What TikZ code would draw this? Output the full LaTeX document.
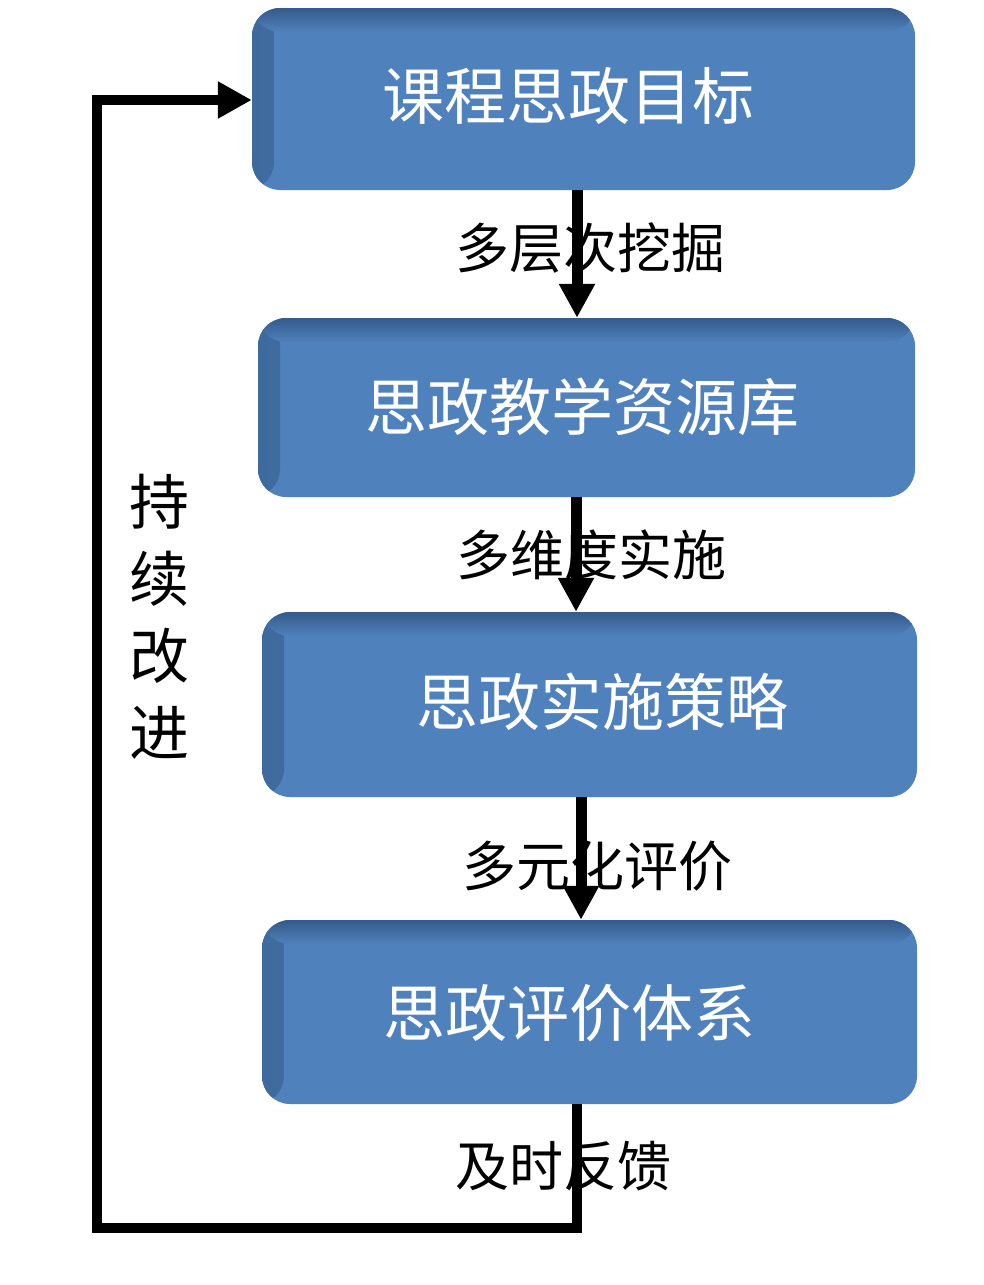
\documentclass[tikz,border=0pt]{standalone}
\usepackage{fontspec}
\newfontfamily\cjk{Noto Sans CJK SC}
\usetikzlibrary{arrows.meta}
\definecolor{boxblue}{HTML}{4F81BD}
\definecolor{boxdark}{HTML}{2A4A76}
\definecolor{boxside}{HTML}{3E6A9E}
\begin{document}
\begin{tikzpicture}[x=1pt,y=-1pt,
  box/.style={draw=none, fill=boxblue, rounded corners=28pt, inner sep=0pt,
    path picture={
      \shade[left color=boxside, right color=boxblue] ([xshift=-10pt]path picture bounding box.north west) rectangle ([xshift=22pt]path picture bounding box.south west);
      \shade[top color=boxdark, bottom color=boxblue] ([yshift=10pt]path picture bounding box.north west) rectangle ([yshift=-24pt]path picture bounding box.north east);
    }},
  boxtext/.style={inner sep=0pt, text=white, font=\cjk\fontsize{62}{62}\selectfont},
  lbl/.style={inner sep=0pt, text=black, font=\cjk\fontsize{54}{54}\selectfont},
  arr/.style={line width=11pt, -{Triangle[width=34pt,length=34pt]}},
  loopline/.style={line width=10pt, line join=miter, -{Triangle[width=35pt,length=34pt]}}
]
\useasboundingbox (0,0) rectangle (984,1285);

% boxes
\node[box, minimum width=663pt, minimum height=182pt] (b1) at (583.5,99) {};
\node[box, minimum width=657pt, minimum height=179pt] (b2) at (586.5,407.5) {};
\node[box, minimum width=655pt, minimum height=185pt] (b3) at (589.5,704.5) {};
\node[box, minimum width=655pt, minimum height=184pt] (b4) at (589.5,1012) {};

% box texts
\node[boxtext] (t1) at (568,96) {课程思政目标};
\node[boxtext] (t2) at (582,407) {思政教学资源库};
\node[boxtext] (t3) at (602,702) {思政实施策略};
\node[boxtext] (t4) at (569,1013) {思政评价体系};

% arrow columns
\coordinate (c1) at (577,0);
\coordinate (c2) at (576,0);
\coordinate (c3) at (581,0);
\coordinate (c4) at (577,0);
\coordinate (lb) at (97,1228);
\coordinate (lt) at (97,100);

% labels
\node[lbl] (l1) at (590,248) {多层次挖掘};
\node[lbl] (l2) at (591,555) {多维度实施};
\node[lbl] (l3) at (597,866) {多元化评价};
\node[lbl] (l4) at (563,1166) {及时反馈};
\node[inner sep=0pt, align=center, font=\cjk\fontsize{60}{77}\selectfont] (lp) at (159,617) {持\\续\\改\\进};

% connectors
\draw[arr] (b1.south -| c1) -- (b2.north -| c1);
\draw[arr] (b2.south -| c2) -- (b3.north -| c2);
\draw[arr] (b3.south -| c3) -- (b4.north -| c3);
\draw[loopline] (b4.south -| c4) -- (lb -| c4) -- (lb) -- (lt) -- (b1.west |- lt);
\end{tikzpicture}
\end{document}
